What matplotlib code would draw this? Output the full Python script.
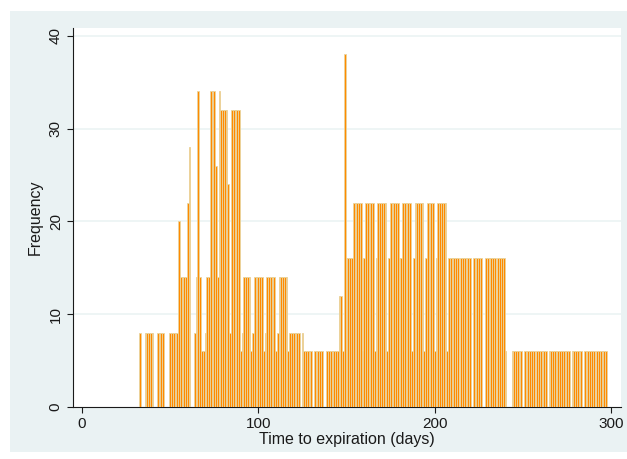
import numpy as np
import matplotlib
matplotlib.use("Agg")
import matplotlib.pyplot as plt
from matplotlib.patches import Rectangle

plt.rcParams['font.family'] = ['Liberation Sans', 'DejaVu Sans']

# Days to expiration (discrete, one bar per day) and their frequencies
first_day = 33
freq = [
    8, 0, 0, 8, 8, 8, 8, 8, 0, 0,          # 33-42
    8, 8, 8, 8, 0, 0, 0, 8, 8, 8,          # 43-52
    8, 8, 20, 14, 14, 14, 14, 22, 28, 0,   # 53-62
    0, 8, 14, 34, 14, 6, 6, 8, 14, 14,     # 63-72
    34, 34, 34, 26, 14, 34, 32, 32, 32, 32,  # 73-82
    24, 8, 32, 32, 32, 32, 32, 6, 8, 14,   # 83-92
    14, 14, 14, 6, 8, 14, 14, 14, 14, 14,  # 93-102
    6, 8, 14, 14, 14, 14, 14, 6, 8, 14,    # 103-112
    14, 14, 14, 14, 6, 8, 8, 8, 8, 8,      # 113-122
    8, 0, 8, 6, 6, 6, 6, 6, 0, 6,          # 123-132
    6, 6, 6, 6, 0, 0, 6, 6, 6, 6,          # 133-142
    6, 6, 6, 12, 12, 6, 38, 16, 16, 16,    # 143-152
    16, 22, 22, 22, 22, 22, 6, 16, 22, 22,  # 153-162
    22, 22, 22, 6, 16, 22, 22, 22, 22, 22,  # 163-172
    6, 16, 22, 22, 22, 22, 22, 16, 16, 22,  # 173-182
    22, 22, 22, 22, 6, 16, 22, 22, 22, 22,  # 183-192
    22, 6, 16, 22, 22, 22, 22, 6, 16, 22,   # 193-202
    22, 22, 22, 22, 6, 16, 16, 16, 16, 16,  # 203-212
    16, 0, 16, 16, 16, 16, 16, 16, 0, 16,   # 213-222
    16, 16, 16, 16, 0, 0, 16, 16, 16, 16,   # 223-232
    16, 16, 0, 16, 16, 16, 16, 6, 0, 0,     # 233-242
    0, 6, 6, 6, 6, 6, 6, 0, 6, 6,           # 243-252
    6, 6, 6, 6, 0, 6, 6, 6, 6, 6,           # 253-262
    6, 0, 6, 6, 6, 6, 6, 6, 6, 6,           # 263-272
    6, 6, 6, 6, 0, 6, 6, 6, 6, 6,           # 273-282
    6, 0, 6, 6, 6, 6, 6, 6, 0, 6,           # 283-292
    6, 6, 6, 6, 6,                          # 293-297
]
days = np.arange(first_day, first_day + len(freq))
freq = np.array(freq)

xticks = [0, 100, 200, 300]
yticks = [0, 10, 20, 30, 40]

W, H = 627, 459
fig = plt.figure(figsize=(W / 100, H / 100), dpi=100)
fig.patch.set_facecolor('white')
bg = '#EAF2F3'
fig.patches.append(Rectangle((10 / W, 1 - 452 / H), (W - 10) / W, (452 - 11) / H,
                             transform=fig.transFigure, facecolor=bg,
                             edgecolor='none', zorder=-10))

ax = fig.add_axes([72.5 / W, 1 - 407 / H, (621 - 72.5) / W, (407 - 28.3) / H])
ax.set_zorder(5)
ax.set_facecolor('white')

mask = freq > 0
ax.bar(days[mask], freq[mask], width=1.0, color='#FF8A00',
       edgecolor='#E9D5A0', linewidth=0.6, zorder=3)

ax.set_xlim(-5.3, 305.5)
ax.set_ylim(0, 40.8)
ax.set_xticks(xticks)
ax.set_yticks(yticks)
ax.set_yticklabels([str(t) for t in yticks], rotation=90, va='center')

for t in yticks[1:]:
    ax.axhline(t, color=bg, lw=1.1, zorder=1)

for s in ['top', 'right']:
    ax.spines[s].set_visible(False)
for s in ['left', 'bottom']:
    ax.spines[s].set_color('#1a1a1a')
    ax.spines[s].set_linewidth(0.8)

ax.tick_params(axis='both', direction='out', length=4, width=0.8,
               color='#1a1a1a', labelsize=11, labelcolor='#1a1a1a')
ax.tick_params(axis='x', pad=3)
ax.tick_params(axis='y', pad=3)

ax.set_xlabel('Time to expiration (days)', fontsize=11.5, color='#1a1a1a', labelpad=1)
ax.set_ylabel('Frequency', fontsize=11.5, color='#1a1a1a', labelpad=4)

fig.savefig('out.png', dpi=100, facecolor=fig.get_facecolor())
